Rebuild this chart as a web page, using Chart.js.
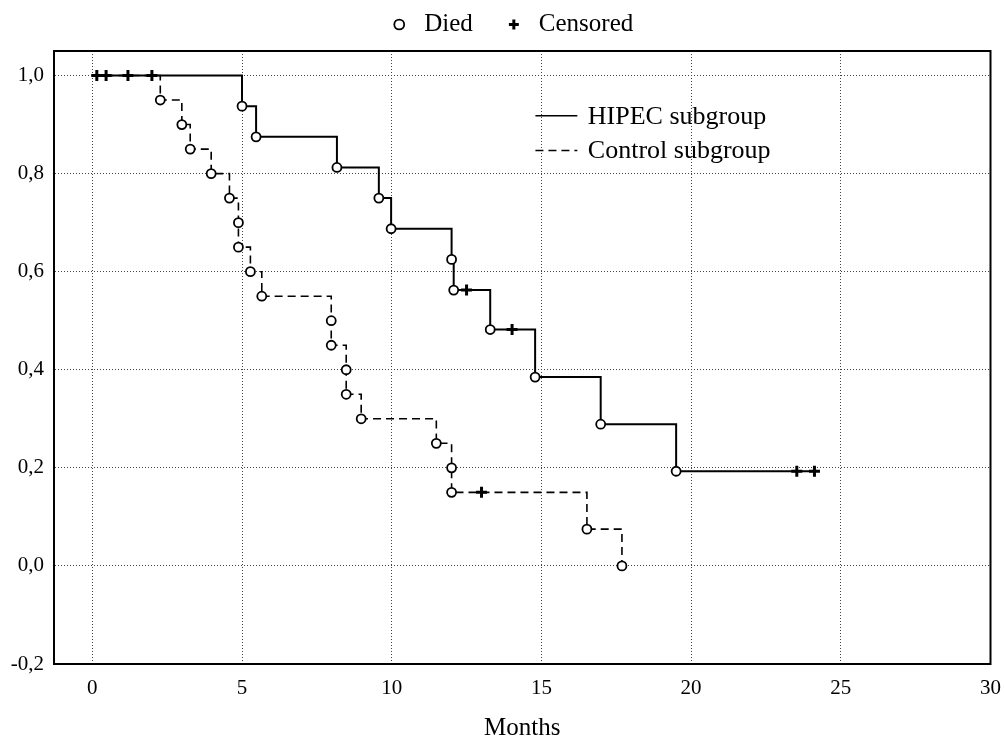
<!DOCTYPE html>
<html>
<head>
<meta charset="utf-8">
<title>Survival by subgroup</title>
<script src="https://cdn.jsdelivr.net/npm/chart.js@4/dist/chart.umd.min.js"></script>
<style>
  html, body { margin: 0; padding: 0; background: #fff; }
  #wrap { width: 1004px; height: 738px; }
</style>
</head>
<body>
<div id="wrap"><canvas id="chartKM"></canvas></div>
<script>
// Kaplan-Meier values (months, cumulative survival)
const hipecDiedT = [5.0, 5.47, 8.17, 9.57, 9.98, 12.0, 12.07, 13.29, 14.79, 16.98, 19.5];
const hipecDiedS = [0.9375, 0.875, 0.8125, 0.75, 0.6875, 0.625, 0.5625, 0.482, 0.385, 0.289, 0.193];
const hipecCensT = [0.15, 0.46, 1.19, 1.99, 12.5, 14.02, 23.53, 24.12];
const hipecCensS = [1.0, 1.0, 1.0, 1.0, 0.5625, 0.482, 0.193, 0.193];

const controlDiedT = [2.27, 2.99, 3.27, 3.97, 4.58, 4.88, 4.88, 5.28, 5.66, 7.98, 7.98, 8.48, 8.48, 8.98, 11.49, 12.0, 12.0, 16.52, 17.69];
const controlDiedS = [0.95, 0.90, 0.85, 0.80, 0.75, 0.70, 0.65, 0.60, 0.55, 0.50, 0.45, 0.40, 0.35, 0.30, 0.25, 0.20, 0.15, 0.075, 0.0];
const controlCensT = [13.0];
const controlCensS = [0.15];

const xTicks = [0, 5, 10, 15, 20, 25, 30];
const yTicks = [-0.2, 0, 0.2, 0.4, 0.6, 0.8, 1.0];

const serif = "'Liberation Serif', 'Times New Roman', serif";

const pts = (t, s) => t.map((v, i) => ({ x: v, y: s[i] }));

// step curve: start at (0,1), then every event in time order
function curve(dt, ds, ct, cs) {
    const all = pts(dt, ds).concat(pts(ct, cs));
    all.sort((a, b) => a.x - b.x || b.y - a.y);
    return [{ x: 0, y: 1 }].concat(all);
}

// inner legend (line styles), placed in data units
const innerLegend = {
    id: 'innerLegend',
    afterDatasetsDraw(chart) {
        const { ctx, scales: { x, y } } = chart;
        const rows = [
            { text: 'HIPEC subgroup', dash: [], yv: 0.918 },
            { text: 'Control subgroup', dash: [8, 5], yv: 0.847 }
        ];
        ctx.save();
        ctx.font = '26px ' + serif;
        ctx.fillStyle = '#000';
        ctx.textBaseline = 'middle';
        rows.forEach(r => {
            const py = y.getPixelForValue(r.yv);
            ctx.beginPath();
            ctx.setLineDash(r.dash);
            ctx.lineWidth = 1.5;
            ctx.strokeStyle = '#000';
            ctx.moveTo(x.getPixelForValue(14.8), py);
            ctx.lineTo(x.getPixelForValue(16.2), py);
            ctx.stroke();
            ctx.fillText(r.text, x.getPixelForValue(16.55), py + 1);
        });
        ctx.restore();
    }
};

// box round the plot area
const frame = {
    id: 'frame',
    beforeDatasetsDraw(chart) {
        const { ctx, chartArea: a } = chart;
        ctx.save();
        ctx.strokeStyle = '#000';
        ctx.lineWidth = 2;
        ctx.strokeRect(a.left, a.top, a.right - a.left, a.bottom - a.top);
        ctx.restore();
    }
};

// nudge the top legend up and to the right a little
const legendNudge = {
    id: 'legendNudge',
    afterLayout(chart) {
        const lg = chart.legend;
        if (lg) {
            lg.top -= 4; lg.bottom -= 4;
            lg.left += 4; lg.right += 4;
        }
    }
};

const data = {
    datasets: [
        {
            label: 'Died  ',
            type: 'scatter',
            data: pts(hipecDiedT, hipecDiedS).concat(pts(controlDiedT, controlDiedS)),
            pointStyle: 'circle',
            pointRadius: 4.5,
            pointBorderWidth: 1.8,
            backgroundColor: '#fff',
            borderColor: '#000'
        },
        {
            label: 'Censored',
            type: 'scatter',
            data: pts(hipecCensT, hipecCensS).concat(pts(controlCensT, controlCensS)),
            pointStyle: 'cross',
            pointRadius: 5.5,
            pointBorderWidth: 3,
            backgroundColor: '#000',
            borderColor: '#000'
        },
        {
            label: 'HIPEC subgroup',
            type: 'line',
            data: curve(hipecDiedT, hipecDiedS, hipecCensT, hipecCensS),
            stepped: 'before',
            borderColor: '#000',
            borderWidth: 2,
            pointRadius: 0,
            fill: false
        },
        {
            label: 'Control subgroup',
            type: 'line',
            data: curve(controlDiedT, controlDiedS, controlCensT, controlCensS),
            stepped: 'before',
            borderColor: '#000',
            borderWidth: 1.6,
            borderDash: [8, 5],
            pointRadius: 0,
            fill: false
        }
    ]
};

const config = {
    type: 'scatter',
    data,
    options: {
        responsive: true,
        maintainAspectRatio: false,
        animation: false,
        layout: { padding: { left: 11, right: 3, top: 0, bottom: 0 } },
        plugins: {
            tooltip: { enabled: false },
            legend: {
                position: 'top',
                labels: {
                    usePointStyle: true,
                    boxWidth: 25,
                    boxHeight: 7,
                    padding: 16,
                    color: '#000',
                    font: { family: serif, size: 25 },
                    filter: item => item.datasetIndex < 2
                }
            }
        },
        scales: {
            x: {
                type: 'linear',
                min: -1.28,
                max: 30,
                afterBuildTicks: s => { s.ticks = xTicks.map(v => ({ value: v })); },
                afterFit: s => { s.height = 74; },
                ticks: {
                    color: '#000',
                    padding: 3,
                    font: { family: serif, size: 21 },
                    callback: v => String(v)
                },
                grid: { color: '#444', lineWidth: 1, drawTicks: true, tickLength: 9, tickColor: 'rgba(0,0,0,0)' },
                border: { display: true, color: '#000', width: 2, dash: [1, 2] },
                title: {
                    display: true,
                    text: 'Months',
                    color: '#000',
                    font: { family: serif, size: 25 },
                    padding: { top: 10, bottom: -5 }
                }
            },
            y: {
                type: 'linear',
                min: -0.2,
                max: 1.05,
                afterBuildTicks: s => { s.ticks = yTicks.map(v => ({ value: v })); },
                afterFit: s => { s.width = 43; },
                ticks: {
                    color: '#000',
                    padding: 10,
                    font: { family: serif, size: 21 },
                    callback: v => v.toFixed(1).replace('.', ',')
                },
                grid: { color: '#444', lineWidth: 1, drawTicks: false },
                border: { display: true, color: '#000', width: 2, dash: [1, 2] }
            }
        }
    },
    plugins: [frame, innerLegend, legendNudge]
};

const chartKM = new Chart(document.getElementById('chartKM'), config);
</script>
</body>
</html>
